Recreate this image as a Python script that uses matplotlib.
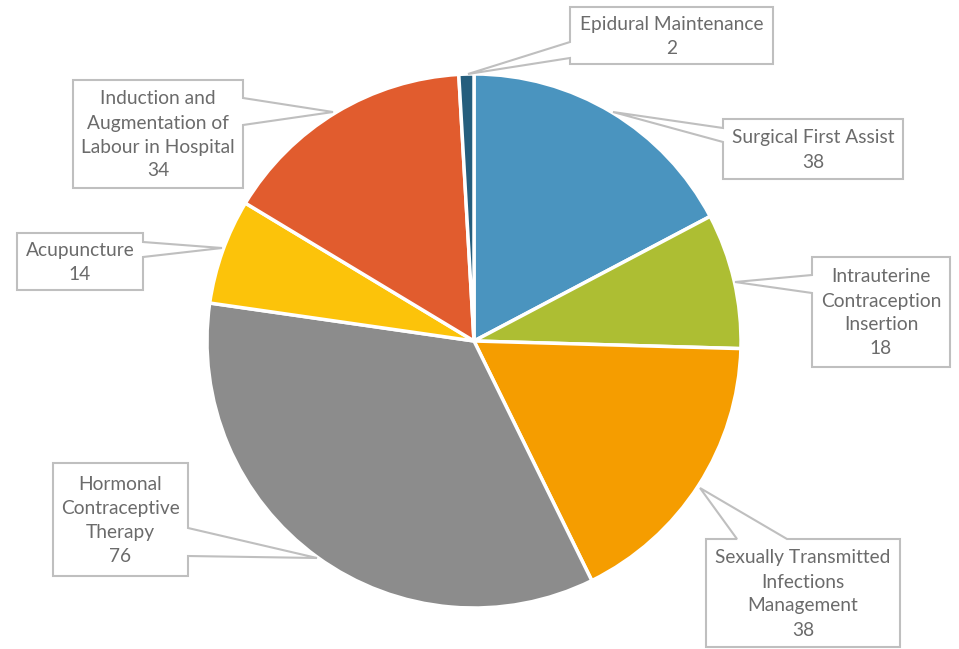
import matplotlib.pyplot as plt
from matplotlib.patches import Polygon

# data
labels = ['Surgical First Assist', 'Intrauterine\nContraception\nInsertion',
          'Sexually Transmitted\nInfections\nManagement', 'Hormonal\nContraceptive\nTherapy',
          'Acupuncture', 'Induction and\nAugmentation of\nLabour in Hospital',
          'Epidural Maintenance']
values = [38, 18, 38, 76, 14, 34, 2]
colors = ['#4A94BF', '#ADBE33', '#F59D00', '#8C8C8C', '#FCC30A', '#E15C2E', '#255E7D']

# callout boxes in pixels: (x0, y0, x1, y1), side of pointer, base points, tip
boxes = [
    ((723, 119, 903, 179), 'left', (128, 142), (613, 112)),
    ((812, 257, 950, 367), 'left', (275, 293), (735, 282)),
    ((706, 539, 900, 647), 'top', (737, 787), (700, 488)),
    ((53, 463, 188, 576), 'right', (528, 556), (317, 558)),
    ((17, 233, 143, 290), 'right', (242, 257), (222, 248)),
    ((73, 80, 243, 188), 'right', (98, 125), (333, 112)),
    ((570, 7, 773, 64), 'left', (42, 58), (468, 74)),
]

W, H = 959, 649
fig = plt.figure(figsize=(W / 100, H / 100), dpi=100)
ax = fig.add_axes([0, 0, 1, 1])

ax.pie(values, colors=colors, center=(474, 341), radius=267,
       startangle=-90, counterclock=True,
       wedgeprops=dict(edgecolor='white', linewidth=2.5))
ax.set_xlim(0, W)
ax.set_ylim(H, 0)
ax.set_aspect('equal')
ax.axis('off')


def callout(box, side, base, tip):
    x0, y0, x1, y1 = box
    if side == 'left':
        pts = [(x0, y0), (x1, y0), (x1, y1), (x0, y1), (x0, base[1]), tip, (x0, base[0])]
    elif side == 'right':
        pts = [(x0, y0), (x1, y0), (x1, base[0]), tip, (x1, base[1]), (x1, y1), (x0, y1)]
    else:  # top
        pts = [(x0, y0), (base[0], y0), tip, (base[1], y0), (x1, y0), (x1, y1), (x0, y1)]
    ax.add_patch(Polygon(pts, closed=True, facecolor='white', edgecolor='#BFBFBF',
                         linewidth=1.5, zorder=5))


for lab, val, (box, side, base, tip) in zip(labels, values, boxes):
    callout(box, side, base, tip)
    x0, y0, x1, y1 = box
    ax.text((x0 + x1) / 2, (y0 + y1) / 2 + 1, f'{lab}\n{val}', ha='center', va='center',
            fontsize=13.8, family='Lato', color='#6B6B6B', linespacing=1.5, zorder=6)

fig.savefig('out.png', dpi=100, facecolor='white')
